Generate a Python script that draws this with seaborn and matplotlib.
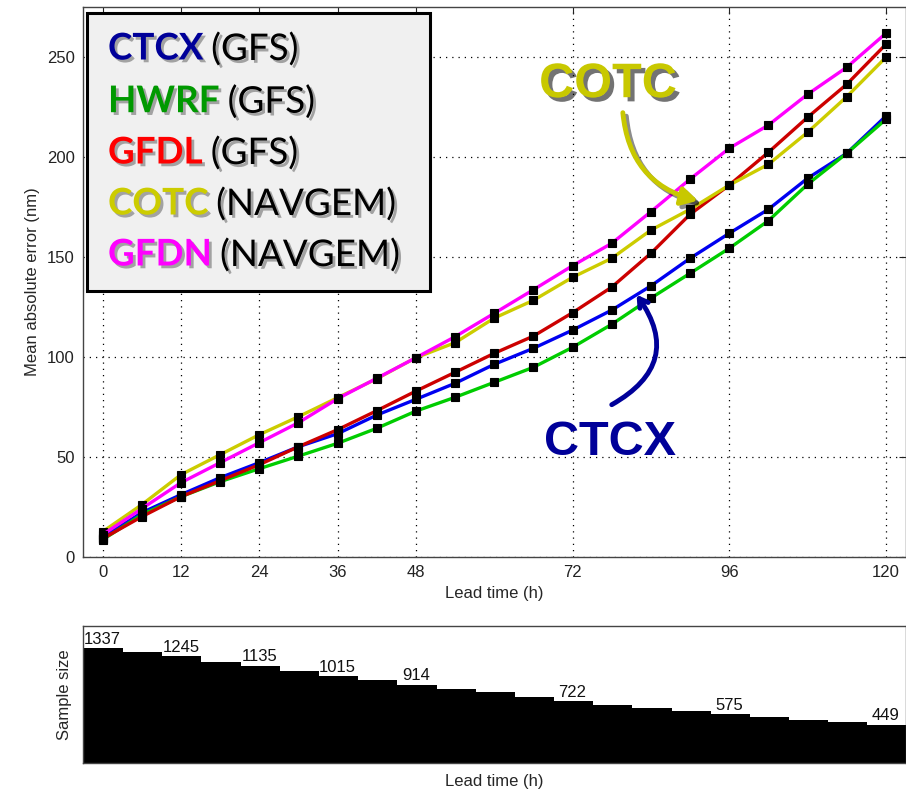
import matplotlib
matplotlib.use("Agg")
import matplotlib.pyplot as plt
import matplotlib.patheffects as pe
from matplotlib.patches import Rectangle
import seaborn as sns
import pandas as pd

# ---------------- data ----------------
lead_times = [0, 6, 12, 18, 24, 30, 36, 42, 48, 54, 60, 66, 72, 78, 84, 90, 96, 102, 108, 114, 120]
ctcx = [9.5, 22, 31, 39.5, 47, 55, 61.5, 70.8, 78.7, 86.7, 96.2, 104.2, 113.3, 123.3, 135.4, 149.2, 161.7, 173.7, 189.2, 201.7, 220.3]
hwrf = [8.5, 21, 30, 37.5, 44, 50.3, 56.7, 64.2, 72.8, 79.7, 87.2, 94.7, 104.7, 116.2, 129.3, 141.7, 154.2, 168.0, 186.2, 201.7, 218.7]
gfdl = [9, 20, 30, 38, 46, 55, 63.5, 73, 82.8, 92.2, 101.7, 110.3, 122, 134.8, 151.7, 171.2, 185.8, 202.2, 219.7, 236.2, 256.2]
cotc = [12.5, 26, 41, 51, 61, 70, 79.5, 89, 99.5, 107, 119.3, 128.2, 139.7, 149.2, 163.3, 173.7, 185.8, 196.2, 212.2, 230.0, 249.7]
gfdn = [11, 24, 37, 47, 57, 67, 79, 89.2, 99.5, 110, 121.7, 133.5, 145.5, 156.7, 172.5, 188.8, 204.2, 215.8, 231.2, 244.7, 261.7]

models = ["CTCX", "HWRF", "GFDL", "COTC", "GFDN"]
suffixes = ["(GFS)", "(GFS)", "(GFS)", "(NAVGEM)", "(NAVGEM)"]
line_colors = ["#0000f0", "#00cc00", "#cc0000", "#cccc00", "#ff00ff"]
legend_colors = ["#000099", "#009900", "#ff0000", "#cccc00", "#ff00ff"]

sample_sizes = [1337, 1298, 1245, 1182, 1135, 1073, 1015, 969, 914, 864, 826, 768, 722, 678, 647, 608, 575, 542, 504, 477, 449]
label_leads = [0, 12, 24, 36, 48, 72, 96, 120]

x_ticks = [0, 12, 24, 36, 48, 72, 96, 120]
y_ticks = [0, 50, 100, 150, 200, 250]

# ---------------- figure ----------------
sns.set_theme(style="white")
plt.rcParams["font.family"] = ["Liberation Sans", "DejaVu Sans"]

W, H = 906, 791
fig = plt.figure(figsize=(W / 100, H / 100), dpi=100)

ax = fig.add_axes([83 / W, 1 - 556.7 / H, (905.5 - 83) / W, (556.7 - 6.7) / H])
axb = fig.add_axes([83 / W, 1 - 763.3 / H, (905.5 - 83) / W, (763.3 - 625.7) / H])

series = {"CTCX": ctcx, "HWRF": hwrf, "GFDL": gfdl, "COTC": cotc, "GFDN": gfdn}
df = pd.DataFrame([
    {"lead": lt, "err": v, "model": m}
    for m in models for lt, v in zip(lead_times, series[m])
])

sns.lineplot(data=df, x="lead", y="err", hue="model", hue_order=models,
             palette=dict(zip(models, line_colors)), ax=ax, legend=False,
             linewidth=2.4, marker="s", markersize=5.5,
             markerfacecolor="black", markeredgecolor="black", markeredgewidth=0.8)

ax.set_xlim(-3, 123)
ax.set_ylim(0, 275)
ax.set_xticks(x_ticks)
ax.set_yticks(y_ticks)
ax.grid(True, color="black", linestyle=(0, (1, 4)), linewidth=0.9)
ax.tick_params(direction="in", top=True, right=True, length=5, width=0.8,
               labelsize=12, colors="#222222", pad=6)
for s in ax.spines.values():
    s.set_color("#444444")
    s.set_linewidth(1.0)
ax.set_xlabel("Lead time (h)", fontsize=12, labelpad=4)
ax.set_ylabel("Mean absolute error (nm)", fontsize=12, labelpad=5)

# ---- annotations ----
shadow = [pe.withSimplePatchShadow(offset=(3, -3), shadow_rgbFace="black", alpha=0.55)]
ax.text(77.4, 236, "COTC", fontsize=35, fontweight="bold", color="#c8c800",
        ha="center", va="center", path_effects=shadow, family="Liberation Sans")
ann = ax.annotate("", xy=(91.2, 178), xytext=(79.7, 222),
                  arrowprops=dict(arrowstyle="-|>,head_length=0.8,head_width=0.45",
                                  color="#c8c800", lw=3.5,
                                  connectionstyle="arc3,rad=0.35", shrinkA=0, shrinkB=0))
ann.arrow_patch.set_path_effects([
    pe.SimpleLineShadow(offset=(2.5, -2.5), shadow_color="black", alpha=0.45),
    pe.Normal()])

ax.text(77.7, 57, "CTCX", fontsize=35, fontweight="bold", color="#000099",
        ha="center", va="center", family="Liberation Sans")
ax.annotate("", xy=(81.8, 131), xytext=(78.0, 76),
            arrowprops=dict(arrowstyle="->,head_length=0.5,head_width=0.3",
                            color="#000099", lw=3.5,
                            connectionstyle="arc3,rad=0.55", shrinkA=0, shrinkB=0))

# ---- legend box ----
fig.patches.append(Rectangle((87 / W, 1 - 291 / H), (430 - 87) / W, (291 - 13) / H,
                             transform=fig.transFigure, facecolor="#f0f0f0",
                             edgecolor="black", linewidth=2.2, zorder=5))
tshadow = [pe.withSimplePatchShadow(offset=(2, -2), shadow_rgbFace="#555555", alpha=0.5)]
row_y = [49, 101.7, 153, 204, 255]
first_texts = []
for m, c, yy in zip(models, legend_colors, row_y):
    t = fig.text(108 / W, 1 - yy / H, m, fontsize=26.5, fontweight="bold", color=c,
                 family="Lato", va="center", ha="left", zorder=6, path_effects=tshadow)
    first_texts.append(t)
fig.canvas.draw()
renderer = fig.canvas.get_renderer()
for t, suf, yy in zip(first_texts, suffixes, row_y):
    bb = t.get_window_extent(renderer)
    fig.text((bb.x1 + 8) / W, 1 - yy / H, suf, fontsize=26.5, color="black",
             family="Lato", va="center", ha="left", zorder=6, path_effects=tshadow)

# ---- sample size panel ----
axb.bar(lead_times, sample_sizes, width=6.0, color="black", edgecolor="black",
        linewidth=0.6, antialiased=False)
for lt, n in zip(lead_times, sample_sizes):
    if lt in label_leads:
        axb.text(lt, n + 15, str(n), ha="center", va="bottom", fontsize=12, color="#111111")
axb.set_xlim(-3, 123)
axb.set_ylim(0, 1600)
axb.set_xticks([])
axb.set_yticks([])
for s in axb.spines.values():
    s.set_color("#444444")
    s.set_linewidth(1.0)
axb.set_xlabel("Lead time (h)", fontsize=12, labelpad=8)
axb.set_ylabel("Sample size", fontsize=12, labelpad=8)

fig.savefig("out.png", dpi=100)
